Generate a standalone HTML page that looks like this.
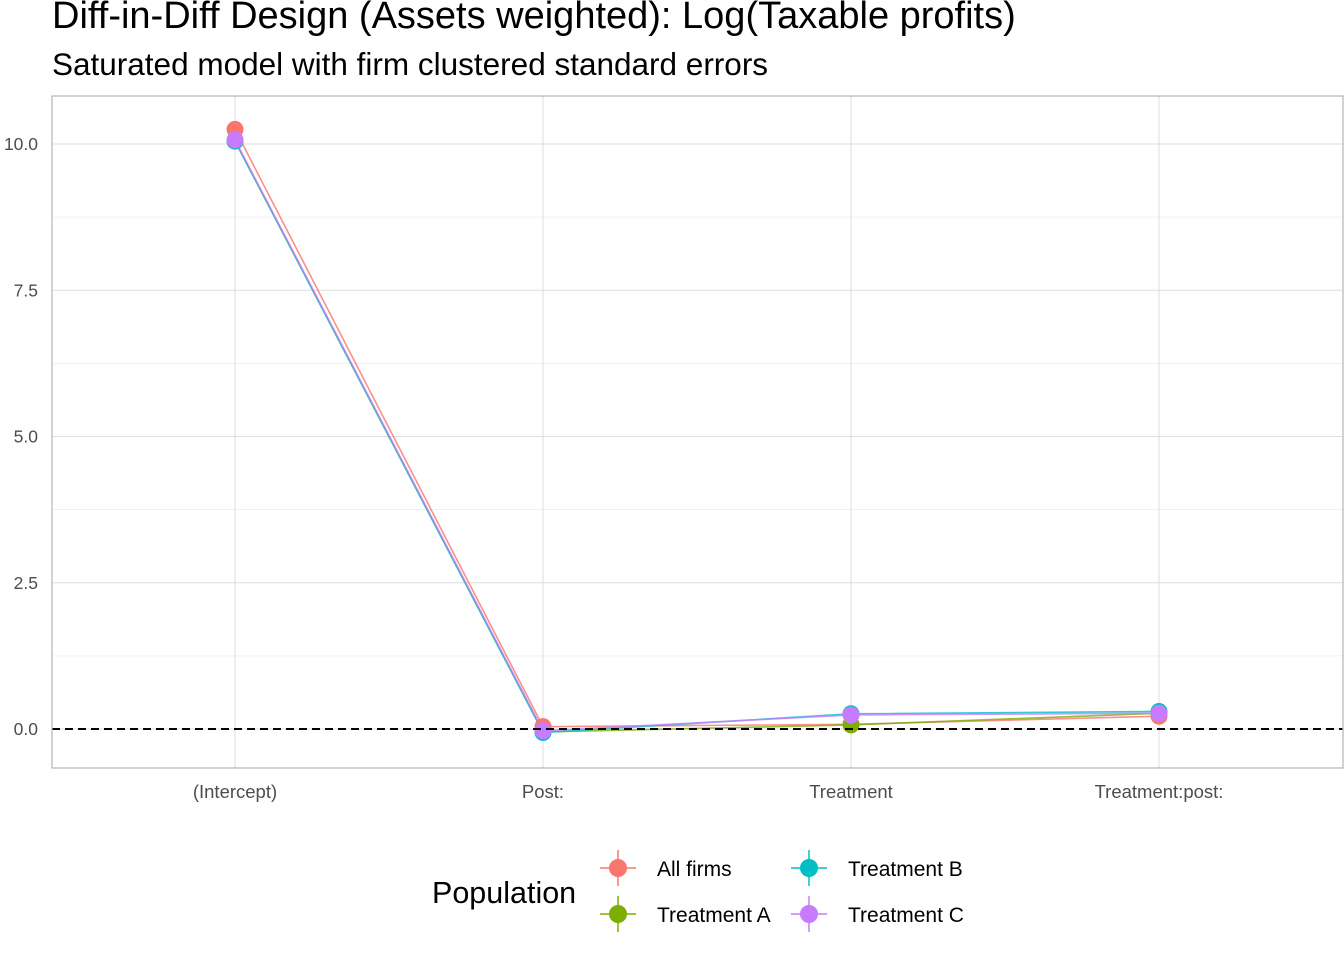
<!DOCTYPE html>
<html><head><meta charset="utf-8"><style>
body{margin:0;background:#fff;font-family:"Liberation Sans",Arial,sans-serif}
svg text{font-family:"Liberation Sans",Arial,sans-serif}
</style></head><body>
<svg id="c" width="1344" height="960" xmlns="http://www.w3.org/2000/svg">
<text x="52" y="28" font-size="38" fill="#000">Diff-in-Diff Design (Assets weighted): Log(Taxable profits)</text>
<text x="52" y="75" font-size="31.5" fill="#000">Saturated model with firm clustered standard errors</text>
<g id="grid"></g>
<g id="marks"></g>
<rect x="52" y="96" width="1291" height="672" fill="none" stroke="#b3b3b3" stroke-width="1.2"/>
<text x="432" y="903" font-size="30.5">Population</text>
<g id="legend"></g>
</svg>
<script>
const categories=["(Intercept)","Post:","Treatment","Treatment:post:"];
const seriesNames=["All firms","Treatment A","Treatment B","Treatment C"];
const colors=["#F8766D","#7CAE00","#00BFC4","#C77CFF"];
const allFirms=[10.25,0.04,0.08,0.22];
const treatA=[10.05,-0.05,0.07,0.27];
const treatB=[10.05,-0.06,0.26,0.30];
const treatC=[10.07,-0.03,0.24,0.27];
const yTicks=[0,2.5,5,7.5,10];
const yTickLabels=["0.0","2.5","5.0","7.5","10.0"];
const series=[allFirms,treatA,treatB,treatC];
const NS="http://www.w3.org/2000/svg";
function xs(i){return 235+i*308;}
function ys(v){return 729-v*58.5;}
function mk(t,a,p){const e=document.createElementNS(NS,t);for(const k in a)e.setAttribute(k,a[k]);(p||document.getElementById('c')).appendChild(e);return e;}
const g=document.getElementById('grid');
for(let k=0;k<yTicks.length;k++){
 const v=yTicks[k];
 let l=mk('line',{x1:52,x2:1343,y1:ys(v),y2:ys(v),stroke:'#dedede','stroke-width':1},g);
 
 
 if(k<yTicks.length-1){let m=mk('line',{x1:52,x2:1343,y1:ys(v+1.25),y2:ys(v+1.25),stroke:'#ececec','stroke-width':0.7},g);
 
 }
 let t=mk('text',{x:38,y:ys(v)+6,'font-size':17.5,fill:'#4d4d4d','text-anchor':'end'},g);t.textContent=yTickLabels[k];
 
 
}
categories.forEach((c,i)=>{
 let l=mk('line',{x1:xs(i),x2:xs(i),y1:96,y2:768,stroke:'#dedede','stroke-width':1},g);
 
 
 let t=mk('text',{x:xs(i),y:798,'font-size':18.5,fill:'#4d4d4d','text-anchor':'middle'},g);t.textContent=c;
 
 
});
const mg=document.getElementById('marks');
series.forEach((s,j)=>{
 const pts=s.map((v,i)=>xs(i)+','+ys(v)).join(' ');
 let pl=mk('polyline',{points:pts,fill:'none',stroke:colors[j],'stroke-width':1.6,opacity:0.8},mg);
 
 
});
series.forEach((s,j)=>{
 s.forEach((v,i)=>{
  let ci=mk('circle',{cx:xs(i),cy:ys(v),r:8.5,fill:colors[j]},mg);
  
  
 });
});
let z=mk('line',{x1:52,x2:1343,y1:ys(0),y2:ys(0),stroke:'#000','stroke-width':2,'stroke-dasharray':'8,5'},mg);


const lg=document.getElementById('legend');
const lpos=[[618,868],[618,914],[809,868],[809,914]];
seriesNames.forEach((n,j)=>{
 const [x,y]=lpos[j];
 let gg=mk('g',{},lg);
 
 
 mk('line',{x1:x-18,x2:x+18,y1:y,y2:y,stroke:colors[j],'stroke-width':1.5},gg);
 mk('line',{x1:x,x2:x,y1:y-18,y2:y+18,stroke:colors[j],'stroke-width':1.5},gg);
 mk('circle',{cx:x,cy:y,r:9,fill:colors[j]},gg);
 let t=mk('text',{x:x+39,y:y+8,'font-size':21,},gg);t.textContent=n;
});
</script>
</body></html>
